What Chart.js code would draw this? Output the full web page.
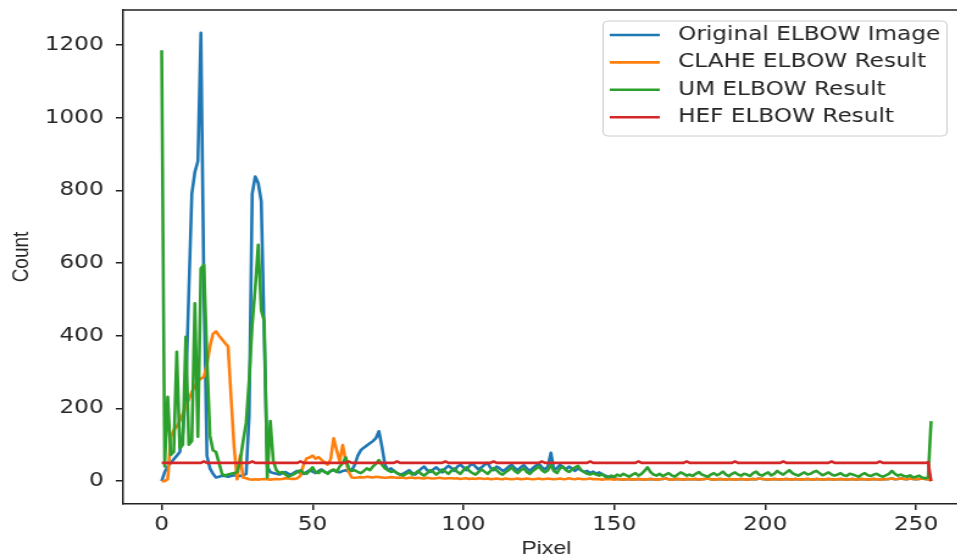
<!DOCTYPE html>
<html>
<head>
<meta charset="utf-8">
<script src="https://cdn.jsdelivr.net/npm/chart.js@4.4.1/dist/chart.umd.min.js"></script>
<style>
  html, body { margin: 0; padding: 0; background: #fff; overflow: hidden; }
  /* the reference is a horizontally stretched figure, so the chart is stretched too */
  #wrap { width: 797px; height: 558px; transform: scaleX(1.2196); transform-origin: 0 0; }
  #hist { display: block; }
</style>
</head>
<body>
<div id="wrap"><canvas id="hist" width="797" height="558"></canvas></div>
<script>
var seriesNames = ['Original ELBOW Image', 'CLAHE ELBOW Result', 'UM ELBOW Result', 'HEF ELBOW Result'];
var seriesColors = ['#1f77b4', '#ff7f0e', '#2ca02c', '#d62728'];
var xTicks = [0, 50, 100, 150, 200, 250];
var yTicks = [0, 200, 400, 600, 800, 1000, 1200];

var original = [
    0, 25, 40, 50, 60, 70, 80, 130, 250, 520, 790, 850, 880, 1233, 520, 70,
    35, 20, 10, 12, 15, 14, 12, 14, 16, 15, 14, 16, 20, 180, 790, 838,
    820, 770, 400, 40, 25, 22, 20, 18, 22, 25, 20, 18, 24, 28, 22, 20,
    25, 30, 26, 22, 28, 32, 25, 22, 28, 30, 26, 24, 28, 30, 26, 30,
    45, 70, 85, 92, 98, 104, 110, 118, 137, 95, 45, 30, 35, 28, 22, 18,
    20, 25, 30, 22, 18, 26, 34, 40, 30, 25, 32, 38, 30, 24, 35, 42,
    36, 28, 40, 45, 38, 30, 42, 48, 40, 32, 38, 45, 50, 36, 30, 40,
    35, 28, 32, 40, 45, 36, 30, 38, 44, 35, 28, 36, 42, 48, 38, 32,
    40, 78, 30, 36, 45, 38, 32, 40, 34, 28, 35, 30, 25, 28, 22, 26,
    20, 24, 18, 15, 12, 10, 8, 6, 5, 4, 5, 6, 4, 5, 6, 5,
    4, 5, 6, 5, 4, 5, 6, 7, 5, 4, 5, 6, 5, 4, 6, 5,
    5, 6, 4, 5, 6, 7, 5, 4, 5, 6, 5, 4, 6, 5, 4, 5,
    6, 5, 4, 5, 6, 5, 7, 6, 5, 4, 5, 6, 5, 4, 5, 6,
    5, 4, 6, 5, 4, 5, 6, 5, 4, 6, 5, 4, 5, 6, 5, 4,
    5, 6, 5, 4, 5, 6, 4, 5, 6, 5, 4, 5, 6, 5, 4, 6,
    5, 6, 7, 5, 6, 8, 6, 5, 7, 6, 5, 6, 7, 6, 5, 2
];

var clahe = [
    0, 0, 5, 120, 140, 150, 165, 185, 205, 225, 245, 262, 275, 282, 287, 320,
    370, 405, 412, 400, 390, 380, 370, 230, 95, 5, 70, 10, 8, 5, 4, 5,
    4, 5, 6, 5, 4, 5, 6, 5, 6, 8, 7, 6, 6, 8, 15, 45,
    62, 65, 70, 62, 66, 58, 52, 45, 60, 118, 85, 55, 99, 55, 25, 10,
    9, 10, 11, 10, 12, 11, 10, 12, 11, 10, 9, 10, 11, 10, 9, 10,
    9, 8, 9, 10, 8, 9, 8, 7, 9, 8, 7, 8, 9, 8, 7, 8,
    8, 7, 8, 6, 7, 8, 6, 7, 6, 8, 7, 6, 7, 5, 6, 7,
    6, 5, 7, 6, 5, 6, 7, 5, 6, 7, 6, 5, 6, 7, 5, 6,
    7, 6, 5, 6, 7, 5, 6, 8, 6, 5, 7, 6, 5, 6, 7, 5,
    6, 5, 4, 5, 6, 5, 4, 6, 5, 4, 5, 6, 4, 5, 6, 5,
    4, 5, 6, 5, 4, 5, 6, 7, 5, 4, 5, 6, 5, 4, 6, 5,
    5, 6, 4, 5, 6, 7, 5, 4, 5, 6, 5, 4, 6, 5, 4, 5,
    6, 5, 4, 5, 6, 5, 7, 6, 5, 4, 5, 6, 5, 4, 5, 6,
    5, 4, 6, 5, 4, 5, 6, 5, 4, 6, 5, 4, 5, 6, 5, 4,
    5, 6, 5, 4, 5, 6, 4, 5, 6, 5, 4, 5, 6, 5, 4, 6,
    5, 6, 7, 5, 6, 8, 6, 5, 7, 6, 5, 6, 7, 6, 5, 2
];

var um = [
    1185, 40, 232, 72, 80, 356, 90, 100, 397, 100, 110, 489, 122, 585, 595, 340,
    125, 85, 80, 50, 20, 15, 18, 20, 22, 25, 55, 110, 160, 280, 430, 530,
    650, 470, 440, 10, 165, 55, 30, 22, 25, 18, 12, 16, 20, 25, 30, 22,
    20, 28, 38, 25, 22, 30, 26, 20, 28, 32, 25, 40, 50, 65, 35, 28,
    30, 25, 22, 28, 35, 30, 40, 48, 58, 45, 35, 30, 25, 28, 22, 18,
    15, 20, 25, 18, 22, 28, 20, 15, 22, 30, 25, 18, 24, 32, 26, 20,
    28, 35, 25, 20, 30, 38, 28, 22, 18, 25, 32, 26, 20, 28, 36, 30,
    22, 18, 25, 30, 38, 28, 22, 30, 35, 25, 20, 28, 34, 40, 30, 24,
    30, 45, 28, 22, 35, 40, 30, 25, 32, 38, 42, 30, 25, 20, 18, 22,
    18, 15, 20, 12, 10, 15, 12, 18, 14, 20, 16, 12, 18, 22, 15, 20,
    28, 38, 25, 18, 15, 20, 14, 18, 22, 16, 12, 18, 24, 20, 15, 18,
    14, 20, 25, 18, 15, 12, 18, 22, 16, 20, 26, 18, 14, 20, 24, 18,
    15, 20, 18, 14, 22, 26, 18, 15, 20, 24, 16, 20, 28, 22, 18, 24,
    30, 22, 18, 15, 20, 24, 18, 20, 25, 28, 22, 16, 20, 24, 18, 15,
    18, 22, 16, 14, 20, 18, 15, 12, 18, 22, 16, 14, 18, 20, 15, 12,
    16, 20, 28, 20, 15, 18, 14, 12, 16, 10, 12, 15, 10, 8, 10, 165
];

var hef = [
    50, 50, 50, 50, 50, 50, 50, 50, 50, 50, 50, 50, 50, 50, 54, 50,
    50, 50, 50, 50, 50, 50, 50, 50, 50, 50, 50, 50, 50, 50, 54, 50,
    50, 50, 50, 50, 50, 50, 50, 50, 50, 50, 50, 50, 50, 50, 54, 50,
    50, 50, 50, 50, 50, 50, 50, 50, 50, 50, 50, 50, 50, 50, 54, 50,
    50, 50, 50, 50, 50, 50, 50, 50, 50, 50, 50, 50, 50, 50, 54, 50,
    50, 50, 50, 50, 50, 50, 50, 50, 50, 50, 50, 50, 50, 50, 54, 50,
    50, 50, 50, 50, 50, 50, 50, 50, 50, 50, 50, 50, 50, 50, 54, 50,
    50, 50, 50, 50, 50, 50, 50, 50, 50, 50, 50, 50, 50, 50, 54, 50,
    50, 50, 50, 50, 50, 50, 50, 50, 50, 50, 50, 50, 50, 50, 54, 50,
    50, 50, 50, 50, 50, 50, 50, 50, 50, 50, 50, 50, 50, 50, 54, 50,
    50, 50, 50, 50, 50, 50, 50, 50, 50, 50, 50, 50, 50, 50, 54, 50,
    50, 50, 50, 50, 50, 50, 50, 50, 50, 50, 50, 50, 50, 50, 54, 50,
    50, 50, 50, 50, 50, 50, 50, 50, 50, 50, 50, 50, 50, 50, 54, 50,
    50, 50, 50, 50, 50, 50, 50, 50, 50, 50, 50, 50, 50, 50, 54, 50,
    50, 50, 50, 50, 50, 50, 50, 50, 50, 50, 50, 50, 50, 50, 54, 50,
    50, 50, 50, 50, 50, 50, 50, 50, 50, 50, 50, 50, 50, 50, 52, 0
];

// pixel intensities 0..255 are the x categories
var pixels = [];
for (let i = 0; i < original.length; i++) pixels.push(i);

var ink = '#262626';
var tickFont = { family: 'DejaVu Sans', size: 19 };
var titleFont = { family: 'Liberation Sans', size: 19, lineHeight: 1 };

// matplotlib style: full frame plus a boxed legend in the upper right
var framePlugin = {
    id: 'frame',
    afterDraw(chart) {
        const ctx = chart.ctx;
        const a = chart.chartArea;
        ctx.save();
        ctx.strokeStyle = '#222';
        ctx.lineWidth = 1.5;
        ctx.beginPath();
        ctx.moveTo(a.left, a.top);
        ctx.lineTo(a.right, a.top);
        ctx.lineTo(a.right, a.bottom);
        ctx.stroke();

        const bx = 494.5, by = 21, bw = 282, bh = 115, r = 4;
        ctx.beginPath();
        ctx.moveTo(bx + r, by);
        ctx.arcTo(bx + bw, by, bx + bw, by + bh, r);
        ctx.arcTo(bx + bw, by + bh, bx, by + bh, r);
        ctx.arcTo(bx, by + bh, bx, by, r);
        ctx.arcTo(bx, by, bx + bw, by, r);
        ctx.closePath();
        ctx.fillStyle = 'rgba(255,255,255,0.8)';
        ctx.fill();
        ctx.strokeStyle = '#cccccc';
        ctx.lineWidth = 1;
        ctx.stroke();

        ctx.font = '19px "DejaVu Sans"';
        ctx.textBaseline = 'middle';
        ctx.textAlign = 'left';
        chart.data.datasets.forEach(function (ds, i) {
            const y = 35 + i * 27.4;
            ctx.strokeStyle = ds.borderColor;
            ctx.lineWidth = 2.6;
            ctx.beginPath();
            ctx.moveTo(500, y);
            ctx.lineTo(541, y);
            ctx.stroke();
            ctx.fillStyle = ink;
            ctx.fillText(ds.label, 556, y);
        });
        ctx.restore();
    }
};

// later series are painted on top, as matplotlib does (higher order = drawn first)
function makeDataset(label, values, color, order) {
    return {
        label: label,
        data: values,
        order: order,
        borderColor: color,
        backgroundColor: color,
        borderWidth: 2.6,
        borderJoinStyle: 'round',
        pointRadius: 0,
        tension: 0,
        fill: false
    };
}

new Chart(document.getElementById('hist'), {
    type: 'line',
    data: {
        labels: pixels,
        datasets: [
            makeDataset(seriesNames[0], original, seriesColors[0], 4),
            makeDataset(seriesNames[1], clahe, seriesColors[1], 3),
            makeDataset(seriesNames[2], um, seriesColors[2], 2),
            makeDataset(seriesNames[3], hef, seriesColors[3], 1)
        ]
    },
    options: {
        responsive: false,
        animation: false,
        events: [],
        layout: { padding: { top: 10, right: 2, bottom: 0, left: 0 } },
        scales: {
            x: {
                type: 'linear',
                min: -12.75,
                max: 267.75,
                afterFit: function (s) { s.height = 54; s.paddingLeft = 0; s.paddingRight = 0; },
                afterBuildTicks: function (s) { s.ticks = xTicks.map(v => ({ value: v })); },
                grid: { drawOnChartArea: false, tickLength: 6, color: '#222', lineWidth: 1.5 },
                border: { display: true, color: '#222', width: 1.5 },
                ticks: { color: ink, font: tickFont, padding: 4, maxRotation: 0, autoSkip: false, callback: v => String(v) },
                title: { display: true, text: 'Pixel', color: ink, font: titleFont, padding: { top: 0, bottom: 0 } }
            },
            y: {
                min: -63,
                max: 1296,
                afterFit: function (s) { s.width = 101; s.paddingTop = 0; s.paddingBottom = 0; },
                afterBuildTicks: function (s) { s.ticks = yTicks.map(v => ({ value: v })); },
                grid: { drawOnChartArea: false, tickLength: 6, color: '#222', lineWidth: 1.5 },
                border: { display: true, color: '#222', width: 1.5 },
                ticks: { color: ink, font: tickFont, padding: 10, autoSkip: false, callback: v => String(v) },
                title: { display: true, text: 'Count', color: ink, font: titleFont, padding: { top: 8, bottom: 0 } }
            }
        },
        plugins: {
            legend: { display: false },
            tooltip: { enabled: false }
        }
    },
    plugins: [framePlugin]
});
</script>
</body>
</html>
